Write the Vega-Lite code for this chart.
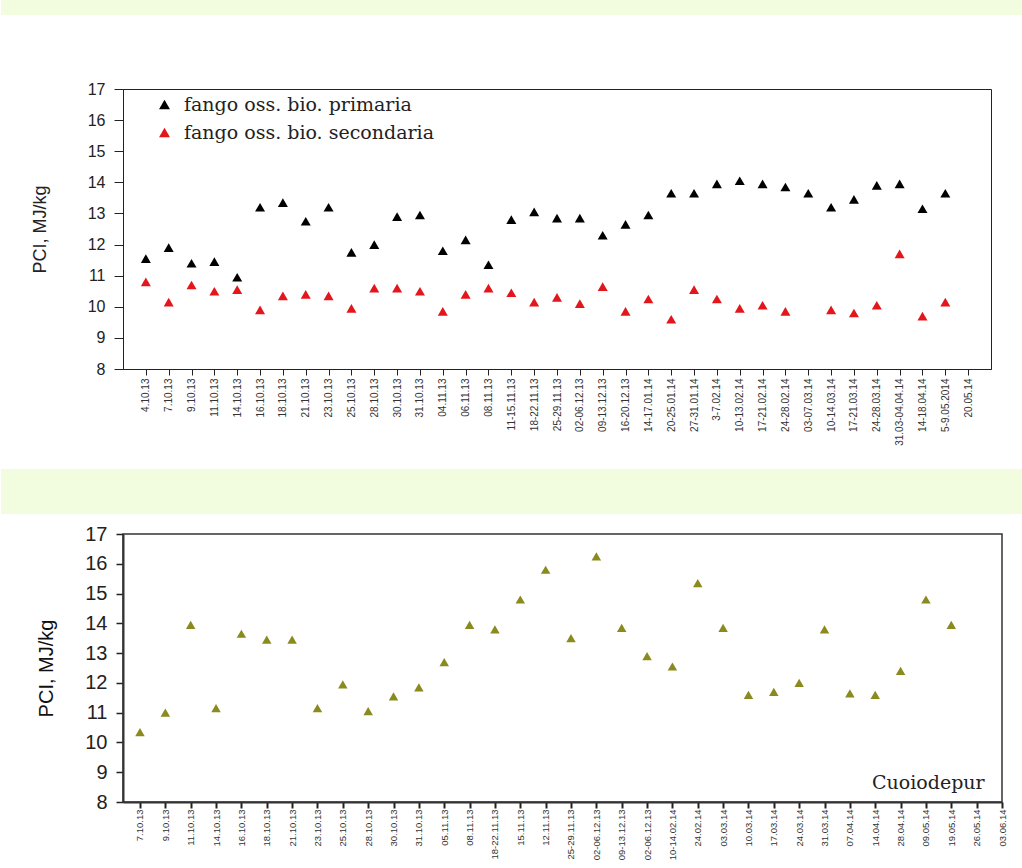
{
 "$schema": "https://vega.github.io/schema/vega-lite/v6.json",
 "padding": 0,
 "background": "white",
 "config": {"view": {"stroke": null}, "font": "Liberation Sans"},
 "datasets": {
  "pci_top": [
   {"date": "4.10.13", "series": "fango oss. bio. primaria", "pci": 11.55},
   {"date": "7.10.13", "series": "fango oss. bio. primaria", "pci": 11.9},
   {"date": "9.10.13", "series": "fango oss. bio. primaria", "pci": 11.4},
   {"date": "11.10.13", "series": "fango oss. bio. primaria", "pci": 11.45},
   {"date": "14.10.13", "series": "fango oss. bio. primaria", "pci": 10.95},
   {"date": "16.10.13", "series": "fango oss. bio. primaria", "pci": 13.2},
   {"date": "18.10.13", "series": "fango oss. bio. primaria", "pci": 13.35},
   {"date": "21.10.13", "series": "fango oss. bio. primaria", "pci": 12.75},
   {"date": "23.10.13", "series": "fango oss. bio. primaria", "pci": 13.2},
   {"date": "25.10.13", "series": "fango oss. bio. primaria", "pci": 11.75},
   {"date": "28.10.13", "series": "fango oss. bio. primaria", "pci": 12.0},
   {"date": "30.10.13", "series": "fango oss. bio. primaria", "pci": 12.9},
   {"date": "31.10.13", "series": "fango oss. bio. primaria", "pci": 12.95},
   {"date": "04.11.13", "series": "fango oss. bio. primaria", "pci": 11.8},
   {"date": "06.11.13", "series": "fango oss. bio. primaria", "pci": 12.15},
   {"date": "08.11.13", "series": "fango oss. bio. primaria", "pci": 11.35},
   {"date": "11-15.11.13", "series": "fango oss. bio. primaria", "pci": 12.8},
   {"date": "18-22.11.13", "series": "fango oss. bio. primaria", "pci": 13.05},
   {"date": "25-29.11.13", "series": "fango oss. bio. primaria", "pci": 12.85},
   {"date": "02-06.12.13", "series": "fango oss. bio. primaria", "pci": 12.85},
   {"date": "09-13.12.13", "series": "fango oss. bio. primaria", "pci": 12.3},
   {"date": "16-20.12.13", "series": "fango oss. bio. primaria", "pci": 12.65},
   {"date": "14-17.01.14", "series": "fango oss. bio. primaria", "pci": 12.95},
   {"date": "20-25.01.14", "series": "fango oss. bio. primaria", "pci": 13.65},
   {"date": "27-31.01.14", "series": "fango oss. bio. primaria", "pci": 13.65},
   {"date": "3-7.02.14", "series": "fango oss. bio. primaria", "pci": 13.95},
   {"date": "10-13.02.14", "series": "fango oss. bio. primaria", "pci": 14.05},
   {"date": "17-21.02.14", "series": "fango oss. bio. primaria", "pci": 13.95},
   {"date": "24-28.02.14", "series": "fango oss. bio. primaria", "pci": 13.85},
   {"date": "03-07.03.14", "series": "fango oss. bio. primaria", "pci": 13.65},
   {"date": "10-14.03.14", "series": "fango oss. bio. primaria", "pci": 13.2},
   {"date": "17-21.03.14", "series": "fango oss. bio. primaria", "pci": 13.45},
   {"date": "24-28.03.14", "series": "fango oss. bio. primaria", "pci": 13.9},
   {"date": "31.03-04.04.14", "series": "fango oss. bio. primaria", "pci": 13.95},
   {"date": "14-18.04.14", "series": "fango oss. bio. primaria", "pci": 13.15},
   {"date": "5-9.05.2014", "series": "fango oss. bio. primaria", "pci": 13.65},
   {"date": "4.10.13", "series": "fango oss. bio. secondaria", "pci": 10.8},
   {"date": "7.10.13", "series": "fango oss. bio. secondaria", "pci": 10.15},
   {"date": "9.10.13", "series": "fango oss. bio. secondaria", "pci": 10.7},
   {"date": "11.10.13", "series": "fango oss. bio. secondaria", "pci": 10.5},
   {"date": "14.10.13", "series": "fango oss. bio. secondaria", "pci": 10.55},
   {"date": "16.10.13", "series": "fango oss. bio. secondaria", "pci": 9.9},
   {"date": "18.10.13", "series": "fango oss. bio. secondaria", "pci": 10.35},
   {"date": "21.10.13", "series": "fango oss. bio. secondaria", "pci": 10.4},
   {"date": "23.10.13", "series": "fango oss. bio. secondaria", "pci": 10.35},
   {"date": "25.10.13", "series": "fango oss. bio. secondaria", "pci": 9.95},
   {"date": "28.10.13", "series": "fango oss. bio. secondaria", "pci": 10.6},
   {"date": "30.10.13", "series": "fango oss. bio. secondaria", "pci": 10.6},
   {"date": "31.10.13", "series": "fango oss. bio. secondaria", "pci": 10.5},
   {"date": "04.11.13", "series": "fango oss. bio. secondaria", "pci": 9.85},
   {"date": "06.11.13", "series": "fango oss. bio. secondaria", "pci": 10.4},
   {"date": "08.11.13", "series": "fango oss. bio. secondaria", "pci": 10.6},
   {"date": "11-15.11.13", "series": "fango oss. bio. secondaria", "pci": 10.45},
   {"date": "18-22.11.13", "series": "fango oss. bio. secondaria", "pci": 10.15},
   {"date": "25-29.11.13", "series": "fango oss. bio. secondaria", "pci": 10.3},
   {"date": "02-06.12.13", "series": "fango oss. bio. secondaria", "pci": 10.1},
   {"date": "09-13.12.13", "series": "fango oss. bio. secondaria", "pci": 10.65},
   {"date": "16-20.12.13", "series": "fango oss. bio. secondaria", "pci": 9.85},
   {"date": "14-17.01.14", "series": "fango oss. bio. secondaria", "pci": 10.25},
   {"date": "20-25.01.14", "series": "fango oss. bio. secondaria", "pci": 9.6},
   {"date": "27-31.01.14", "series": "fango oss. bio. secondaria", "pci": 10.55},
   {"date": "3-7.02.14", "series": "fango oss. bio. secondaria", "pci": 10.25},
   {"date": "10-13.02.14", "series": "fango oss. bio. secondaria", "pci": 9.95},
   {"date": "17-21.02.14", "series": "fango oss. bio. secondaria", "pci": 10.05},
   {"date": "24-28.02.14", "series": "fango oss. bio. secondaria", "pci": 9.85},
   {"date": "10-14.03.14", "series": "fango oss. bio. secondaria", "pci": 9.9},
   {"date": "17-21.03.14", "series": "fango oss. bio. secondaria", "pci": 9.8},
   {"date": "24-28.03.14", "series": "fango oss. bio. secondaria", "pci": 10.05},
   {"date": "31.03-04.04.14", "series": "fango oss. bio. secondaria", "pci": 11.7},
   {"date": "14-18.04.14", "series": "fango oss. bio. secondaria", "pci": 9.7},
   {"date": "5-9.05.2014", "series": "fango oss. bio. secondaria", "pci": 10.15}
  ],
  "pci_bottom": [
   {"date": "7.10.13", "site": "Cuoiodepur", "pci": 10.35},
   {"date": "9.10.13", "site": "Cuoiodepur", "pci": 11.0},
   {"date": "11.10.13", "site": "Cuoiodepur", "pci": 13.95},
   {"date": "14.10.13", "site": "Cuoiodepur", "pci": 11.15},
   {"date": "16.10.13", "site": "Cuoiodepur", "pci": 13.65},
   {"date": "18.10.13", "site": "Cuoiodepur", "pci": 13.45},
   {"date": "21.10.13", "site": "Cuoiodepur", "pci": 13.45},
   {"date": "23.10.13", "site": "Cuoiodepur", "pci": 11.15},
   {"date": "25.10.13", "site": "Cuoiodepur", "pci": 11.95},
   {"date": "28.10.13", "site": "Cuoiodepur", "pci": 11.05},
   {"date": "30.10.13", "site": "Cuoiodepur", "pci": 11.55},
   {"date": "31.10.13", "site": "Cuoiodepur", "pci": 11.85},
   {"date": "05.11.13", "site": "Cuoiodepur", "pci": 12.7},
   {"date": "08.11.13", "site": "Cuoiodepur", "pci": 13.95},
   {"date": "18-22.11.13", "site": "Cuoiodepur", "pci": 13.8},
   {"date": "15.11.13", "site": "Cuoiodepur", "pci": 14.8},
   {"date": "12.11.13", "site": "Cuoiodepur", "pci": 15.8},
   {"date": "25-29.11.13", "site": "Cuoiodepur", "pci": 13.5},
   {"date": "02-06.12.13", "site": "Cuoiodepur", "pci": 16.25},
   {"date": "09-13.12.13", "site": "Cuoiodepur", "pci": 13.85},
   {"date": "02-06.12.13 ", "site": "Cuoiodepur", "pci": 12.9},
   {"date": "10-14.02.14", "site": "Cuoiodepur", "pci": 12.55},
   {"date": "24.02.14", "site": "Cuoiodepur", "pci": 15.35},
   {"date": "03.03.14", "site": "Cuoiodepur", "pci": 13.85},
   {"date": "10.03.14", "site": "Cuoiodepur", "pci": 11.6},
   {"date": "17.03.14", "site": "Cuoiodepur", "pci": 11.7},
   {"date": "24.03.14", "site": "Cuoiodepur", "pci": 12.0},
   {"date": "31.03.14", "site": "Cuoiodepur", "pci": 13.8},
   {"date": "07.04.14", "site": "Cuoiodepur", "pci": 11.65},
   {"date": "14.04.14", "site": "Cuoiodepur", "pci": 11.6},
   {"date": "28.04.14", "site": "Cuoiodepur", "pci": 12.4},
   {"date": "09.05.14", "site": "Cuoiodepur", "pci": 14.8},
   {"date": "19.05.14", "site": "Cuoiodepur", "pci": 13.95}
  ]
 },
 "concat": [
  {"width": 900, "height": 15, "data": {"values": [{}]}, "mark": {"type": "rect", "color": "#f2fde0", "clip": false},
   "encoding": {"x": {"datum": -122, "type": "quantitative", "scale": {"domain": [0, 900], "nice": false, "zero": false}, "axis": null}, "x2": {"datum": 900}}},
  {"width": 900, "height": 65, "data": {"values": [{}]}, "mark": {"type": "rect", "color": "white"}, "encoding": {}},
  {
   "width": 868, "height": 280,
   "data": {"name": "pci_top"},
   "view": {"stroke": "#222", "strokeWidth": 1},
   "mark": {"type": "point", "shape": "triangle-up", "filled": true, "size": 100, "opacity": 1},
   "encoding": {
    "x": {"field": "date", "type": "nominal", "sort": null,
     "scale": {"type": "point", "padding": 1.12, "align": 0.5, "domain": ["4.10.13","7.10.13","9.10.13","11.10.13","14.10.13","16.10.13","18.10.13","21.10.13","23.10.13","25.10.13","28.10.13","30.10.13","31.10.13","04.11.13","06.11.13","08.11.13","11-15.11.13","18-22.11.13","25-29.11.13","02-06.12.13","09-13.12.13","16-20.12.13","14-17.01.14","20-25.01.14","27-31.01.14","3-7.02.14","10-13.02.14","17-21.02.14","24-28.02.14","03-07.03.14","10-14.03.14","17-21.03.14","24-28.03.14","31.03-04.04.14","14-18.04.14","5-9.05.2014","20.05.14"]},
     "axis": {"title": null, "labelAngle": 270, "labelFontSize": 10, "labelColor": "#333", "labelPadding": 3, "tickSize": 6, "tickColor": "#222", "domainColor": "#222", "grid": false, "labelOverlap": false}},
    "y": {"field": "pci", "type": "quantitative",
     "scale": {"domain": [8, 17], "nice": false, "zero": false},
     "axis": {"title": "PCI, MJ/kg", "titleFontSize": 18, "titleFontWeight": "normal", "titleColor": "#222", "titlePadding": 38,
      "values": [8,8.5,9,9.5,10,10.5,11,11.5,12,12.5,13,13.5,14,14.5,15,15.5,16,16.5,17],
      "format": "d", "labelExpr": "datum.value % 1 === 0 ? datum.label : ''",
      "labelFontSize": 16, "labelColor": "#222", "labelPadding": 9,
      "tickSize": {"condition": {"test": "datum.value % 1 !== 0", "value": 5}, "value": 9},
      "tickColor": "#222", "domainColor": "#222", "grid": false}},
    "color": {"field": "series", "type": "nominal",
     "scale": {"domain": ["fango oss. bio. primaria", "fango oss. bio. secondaria"], "range": ["#000000", "#e3161c"]},
     "legend": {"orient": "none", "legendX": 32, "legendY": 6, "title": null, "symbolType": "triangle-up", "symbolSize": 120, "symbolStrokeWidth": 0, "labelFont": "DejaVu Serif", "labelFontSize": 19, "labelColor": "#222", "labelLimit": 0, "rowPadding": 8, "labelOffset": 10}}
   }
  },
  {"width": 900, "height": 23, "data": {"values": [{}]}, "mark": {"type": "rect", "color": "white"}, "encoding": {}},
  {"width": 900, "height": 45, "data": {"values": [{}]}, "mark": {"type": "rect", "color": "#f2fde0", "clip": false},
   "encoding": {"x": {"datum": -122, "type": "quantitative", "scale": {"domain": [0, 900], "nice": false, "zero": false}, "axis": null}, "x2": {"datum": 900}}},
  {"width": 900, "height": 9, "data": {"values": [{}]}, "mark": {"type": "rect", "color": "white"}, "encoding": {}},
  {
   "width": 879, "height": 268,
   "data": {"name": "pci_bottom"},
   "view": {"stroke": "#333", "strokeWidth": 1.5},
   "mark": {"type": "point", "shape": "triangle-up", "filled": true, "size": 90, "opacity": 1},
   "encoding": {
    "x": {"field": "date", "type": "nominal", "sort": null,
     "scale": {"type": "point", "padding": 0.335, "align": 1, "domain": ["7.10.13","9.10.13","11.10.13","14.10.13","16.10.13","18.10.13","21.10.13","23.10.13","25.10.13","28.10.13","30.10.13","31.10.13","05.11.13","08.11.13","18-22.11.13","15.11.13","12.11.13","25-29.11.13","02-06.12.13","09-13.12.13","02-06.12.13 ","10-14.02.14","24.02.14","03.03.14","10.03.14","17.03.14","24.03.14","31.03.14","07.04.14","14.04.14","28.04.14","09.05.14","19.05.14","26.05.14","03.06.14"]},
     "axis": {"title": null, "labelAngle": 270, "labelFontSize": 9.5, "labelColor": "#333", "labelPadding": 1, "tickSize": 6, "tickWidth": 2, "tickColor": "#222", "domainColor": "#333", "domainWidth": 2, "grid": false, "labelOverlap": false}},
    "y": {"field": "pci", "type": "quantitative",
     "scale": {"domain": [8, 17], "nice": false, "zero": false},
     "axis": {"title": "PCI, MJ/kg", "titleFontSize": 20, "titleFontWeight": "normal", "titleColor": "#111", "titlePadding": 28,
      "values": [8,9,10,11,12,13,14,15,16,17], "format": "d",
      "labelFontSize": 20, "labelColor": "#222", "labelPadding": 9, "tickSize": 7, "tickWidth": 1.5,
      "tickColor": "#222", "domainColor": "#333", "domainWidth": 2, "grid": false}},
    "color": {"field": "site", "type": "nominal",
     "scale": {"domain": ["Cuoiodepur"], "range": ["#8a8a1f"]},
     "legend": {"orient": "none", "legendX": 728, "legendY": 239, "title": null, "symbolOpacity": 0, "symbolSize": 10, "symbolStrokeWidth": 0, "labelFont": "DejaVu Serif", "labelFontSize": 19, "labelColor": "#222", "labelLimit": 0, "labelOffset": 2}}
   }
  }
 ],
 "columns": 1,
 "spacing": 0,
 "bounds": "full",
 "resolve": {"scale": {"x": "independent", "y": "independent", "color": "independent"}, "legend": {"color": "independent"}, "axis": {"x": "independent", "y": "independent"}}
}
